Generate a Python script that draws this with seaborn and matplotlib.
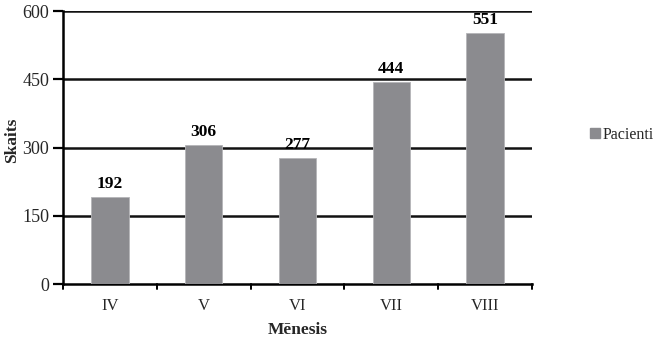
import matplotlib
matplotlib.use("Agg")
import matplotlib.pyplot as plt
import seaborn as sns
import pandas as pd
from matplotlib.patches import Patch

months = ["IV", "V", "VI", "VII", "VIII"]
patients = [192, 306, 277, 444, 551]
y_ticks = [0, 150, 300, 450, 600]

sns.set_theme(style="white")
plt.rcParams["font.family"] = ["Liberation Serif", "DejaVu Serif"]

bar_color = "#8b8b8f"
df = pd.DataFrame({"Mēnesis": months, "Skaits": patients})

fig = plt.figure(figsize=(6.56, 3.37), dpi=100)
ax = fig.add_axes([0.096, 0.157, 0.715, 0.81])

sns.barplot(data=df, x="Mēnesis", y="Skaits", color=bar_color, width=0.40,
            saturation=1, ax=ax, zorder=3, edgecolor="#b5b5b8", linewidth=0.6)

ax.set_ylim(0, 600)
ax.set_xlim(-0.5, len(months) - 0.5)
ax.set_yticks(y_ticks)
ax.set_yticklabels([str(v) for v in y_ticks], fontsize=13)
for v in y_ticks[1:]:
    ax.axhline(v, color="#111111", lw=1.8, zorder=1)

# x ticks sit between categories
ax.set_xticks(range(len(months)))
ax.set_xticklabels(months, fontsize=12)
ax.tick_params(axis="x", bottom=False, length=0, pad=10)
for b in [i - 0.5 for i in range(len(months) + 1)]:
    ax.plot([b, b], [0, -0.018], transform=ax.get_xaxis_transform(),
            color="black", lw=1.4, clip_on=False)
ax.tick_params(axis="y", left=True, length=7, width=1.6, direction="out",
               color="black", pad=3)

for s in ["top", "right"]:
    ax.spines[s].set_visible(False)
for s in ["left", "bottom"]:
    ax.spines[s].set_color("black")
    ax.spines[s].set_linewidth(1.8)

for i, v in enumerate(patients):
    ax.text(i, v + 11, str(v), ha="center", va="bottom", fontsize=12.5,
            fontweight="bold", color="black")

ax.set_xlabel("Mēnesis", fontsize=12.5, fontweight="bold", labelpad=6)
ax.set_ylabel("Skaits", fontsize=12.5, fontweight="bold")
ax.yaxis.set_label_coords(-0.092, 0.527)

fig.legend(handles=[Patch(color=bar_color, label="Pacienti")],
           loc="center left", bbox_to_anchor=(0.878, 0.60), frameon=False,
           fontsize=11.5, handlelength=0.6, handleheight=0.6, handletextpad=0.15)

fig.savefig("out.png", dpi=100)
